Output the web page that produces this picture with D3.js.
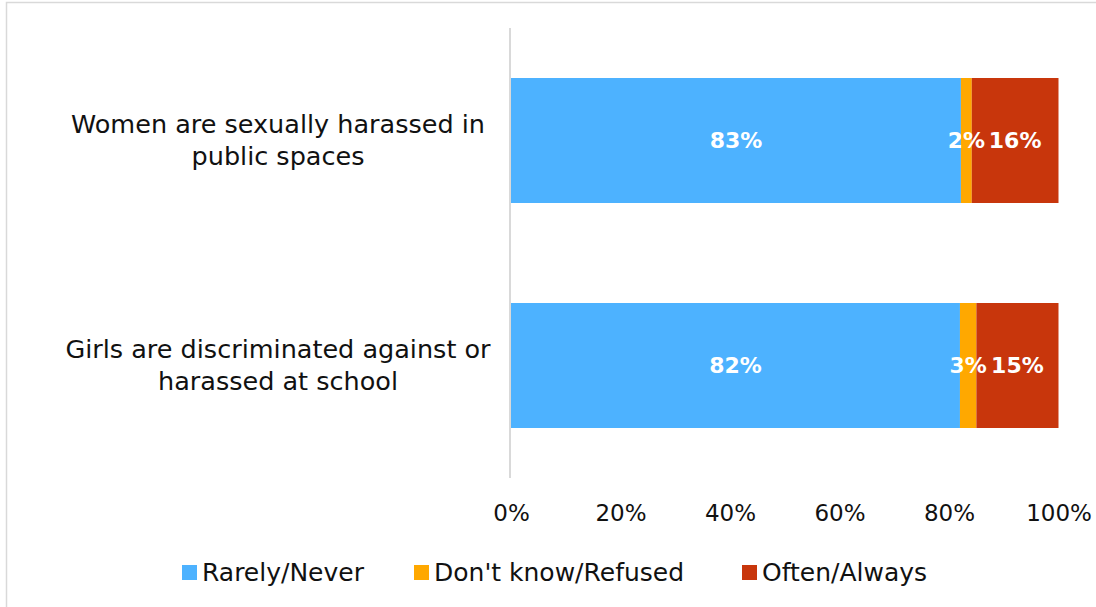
<!DOCTYPE html>
<meta charset="UTF-8">
<head>
<title>Harassment perceptions</title>
<style>
body { margin: 0; background: #fff; }
svg text { font-family: "DejaVu Sans", sans-serif; }
</style>
</head>
<body>
<script src="https://cdn.jsdelivr.net/npm/d3@7"></script>
<script>

// categories and series
var categories = [
  ["Women are sexually harassed in", "public spaces"],
  ["Girls are discriminated against or", "harassed at school"]
];
var seriesNames = ["Rarely/Never", "Don't know/Refused", "Often/Always"];
var seriesColors = ["#4db2ff", "#ffa800", "#c8360c"];
var rarelyNever = [83, 82];
var dontKnow = [2, 3];
var oftenAlways = [16, 15];
var tickValues = [0, 0.2, 0.4, 0.6, 0.8, 1];

var width = 1096, height = 607;
var plot = {left: 511, right: 1058.5, top: 28, bottom: 478};

var rows = categories.map(function(c, i) {
  return {i: i, a: rarelyNever[i], b: dontKnow[i], c: oftenAlways[i]};
});

var svg = d3.select("body").append("svg")
    .attr("width", width)
    .attr("height", height);

// outer chart frame (only top/left edges visible in the crop)
svg.append("path")
    .attr("d", "M6.5,607 V2.5 H1096")
    .attr("fill", "none")
    .attr("stroke", "#d9d9d9")
    .attr("stroke-width", 1.5);

var x = d3.scaleLinear().domain([0, 1]).range([plot.left, plot.right]);
var y = d3.scaleBand()
    .domain(rows.map(function(d) { return d.i; }))
    .range([plot.top, plot.bottom])
    .paddingInner(100 / 225)
    .paddingOuter(50 / 225);

// 100% stacked
var stack = d3.stack().keys(["a", "b", "c"]).offset(d3.stackOffsetExpand);
var layers = stack(rows);

var g = svg.append("g");

g.selectAll("g.layer")
  .data(layers)
  .enter().append("g")
    .attr("class", "layer")
    .attr("fill", function(d, i) { return seriesColors[i]; })
  .selectAll("rect")
  .data(function(d) { return d; })
  .enter().append("rect")
    .attr("x", function(d) { return x(d[0]); })
    .attr("width", function(d) { return x(d[1]) - x(d[0]); })
    .attr("y", function(d) { return y(d.data.i); })
    .attr("height", y.bandwidth());

// vertical category axis line
svg.append("line")
    .attr("x1", x(0) - 1).attr("x2", x(0) - 1)
    .attr("y1", plot.top).attr("y2", plot.bottom)
    .attr("stroke", "#d9d9d9")
    .attr("stroke-width", 2);

// data labels
var labels = [];
layers.forEach(function(layer, k) {
  layer.forEach(function(d) {
    labels.push({x: (x(d[0]) + x(d[1])) / 2, y: y(d.data.i) + y.bandwidth() / 2,
                 v: d.data[layer.key]});
  });
});
svg.selectAll("text.lbl")
  .data(labels)
  .enter().append("text")
    .attr("class", "lbl")
    .attr("x", function(d) { return d.x; })
    .attr("y", function(d) { return d.y; })
    .attr("dy", "0.36em")
    .attr("text-anchor", "middle")
    .attr("fill", "#fff")
    .attr("font-weight", "bold")
    .attr("font-size", "22px")
    .text(function(d) { return d.v + "%"; });

// category labels
svg.selectAll("text.cat")
  .data(categories)
  .enter().append("text")
    .attr("class", "cat")
    .attr("text-anchor", "middle")
    .attr("font-size", "25.5px")
    .attr("fill", "#111")
    .each(function(lines, i) {
      var cy = y(i) + y.bandwidth() / 2;
      d3.select(this).selectAll("tspan")
        .data(lines)
        .enter().append("tspan")
          .attr("x", 278)
          .attr("y", function(t, j) { return cy - 7.5 + j * 32; })
          .text(function(t) { return t; });
    });

// x axis tick labels
var xAxis = d3.axisBottom(x)
    .tickValues(tickValues)
    .tickFormat(d3.format(".0%"))
    .tickSize(0)
    .tickPadding(0);
var ax = svg.append("g")
    .attr("transform", "translate(0," + 505 + ")")
    .call(xAxis);
ax.select(".domain").remove();
ax.selectAll("text")
    .attr("font-family", "DejaVu Sans, sans-serif")
    .attr("font-size", "23px")
    .attr("fill", "#111")
    .attr("dy", "0.71em");

// legend
var legendX = [182, 414, 742];
var leg = svg.selectAll("g.leg")
  .data(seriesNames)
  .enter().append("g")
    .attr("class", "leg")
    .attr("transform", function(d, i) { return "translate(" + legendX[i] + ",565)"; });
leg.append("rect")
    .attr("width", 15).attr("height", 15)
    .attr("fill", function(d, i) { return seriesColors[i]; });
leg.append("text")
    .attr("x", 20)
    .attr("y", 16)
    .attr("font-size", "25px")
    .attr("fill", "#111")
    .text(function(d) { return d; });

</script>
</body>
</html>
